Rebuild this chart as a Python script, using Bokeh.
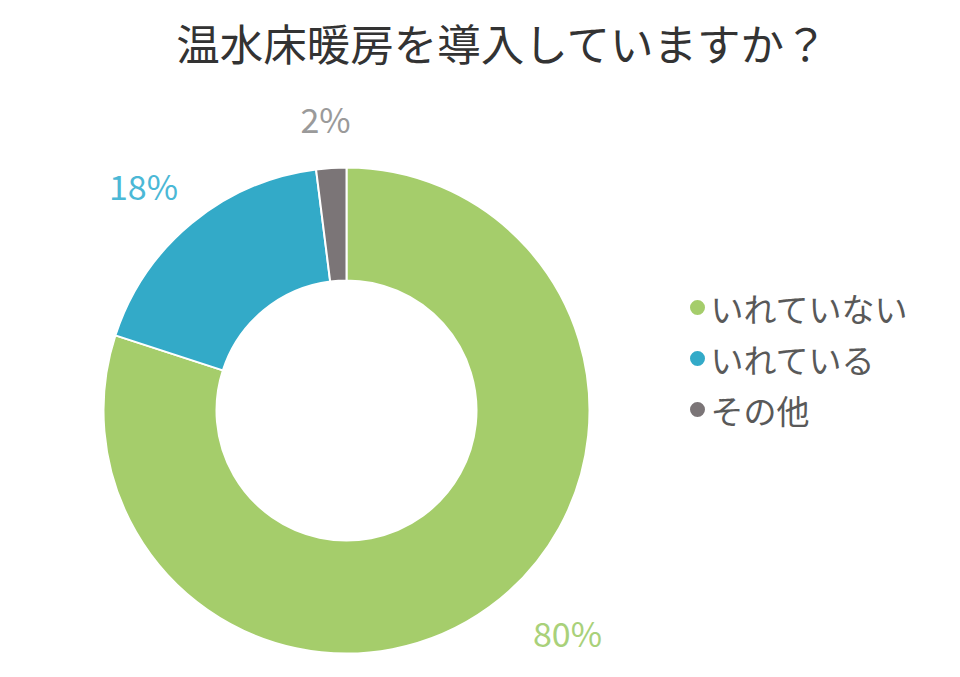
import math
from bokeh.plotting import figure
from bokeh.models import ColumnDataSource, Range1d
from bokeh.core.properties import value
from bokeh.embed import file_html
from bokeh.resources import INLINE

# ---- data ----
title = "温水床暖房を導入していますか？"
categories = ["いれていない", "いれている", "その他"]
shares = [80, 18, 2]
colors = ["#A5CD6B", "#33AAC8", "#7B7577"]
label_colors = ["#A9D17A", "#4BB8D6", "#9A9A9A"]

# ---- layout ----
W, H = 960, 677
CX, CY = 346, H - 410
R_OUT, R_IN = 243, 130
FONT = "Noto Sans CJK JP"
# percent label positions (pixel coords, top-left origin)
label_pos = [(567, 632), (143, 185), (325, 118)]

total = float(sum(shares))
starts, ends = [], []
cum = 0.0
for s in shares:
    starts.append(math.pi / 2 - cum / total * 2 * math.pi)
    cum += s
    ends.append(math.pi / 2 - cum / total * 2 * math.pi)

p = figure(width=W, height=H, output_backend="svg", toolbar_location=None,
           x_range=Range1d(0, W), y_range=Range1d(0, H), min_border=0)
p.axis.visible = False
p.grid.visible = False
p.outline_line_color = None
p.background_fill_color = "white"
p.border_fill_color = "white"

src = ColumnDataSource(dict(start=starts, end=ends, color=colors, cat=categories))
p.annular_wedge(x=CX, y=CY, inner_radius=R_IN, outer_radius=R_OUT,
                start_angle="start", end_angle="end", direction="clock",
                fill_color="color", line_color="white", line_width=2, source=src)

# percent labels
lsrc = ColumnDataSource(dict(
    x=[pt[0] for pt in label_pos],
    y=[H - pt[1] for pt in label_pos],
    t=[f"{s}%" for s in shares],
    c=label_colors))
p.text(x="x", y="y", text="t", text_color="c", source=lsrc,
       text_font=value(FONT), text_font_size="34px",
       text_align="center", text_baseline="middle")

# title
p.text(x=[502], y=[H - 42], text=[title], text_font=value(FONT),
       text_font_size="43.5px", text_color="#333333",
       text_align="center", text_baseline="middle")

# legend
LX, LY0, LDY = 697, 307, 51
leg_y = [H - (LY0 + i * LDY) for i in range(len(categories))]
p.scatter(x=[LX] * len(categories), y=leg_y, size=15, marker="circle",
          fill_color=colors, line_color=None)
p.text(x=[LX + 13] * len(categories), y=leg_y, text=categories,
       text_font=value(FONT), text_font_size="33px", text_color="#595959",
       text_align="left", text_baseline="middle")

open("out.html", "w").write(file_html(p, INLINE))
